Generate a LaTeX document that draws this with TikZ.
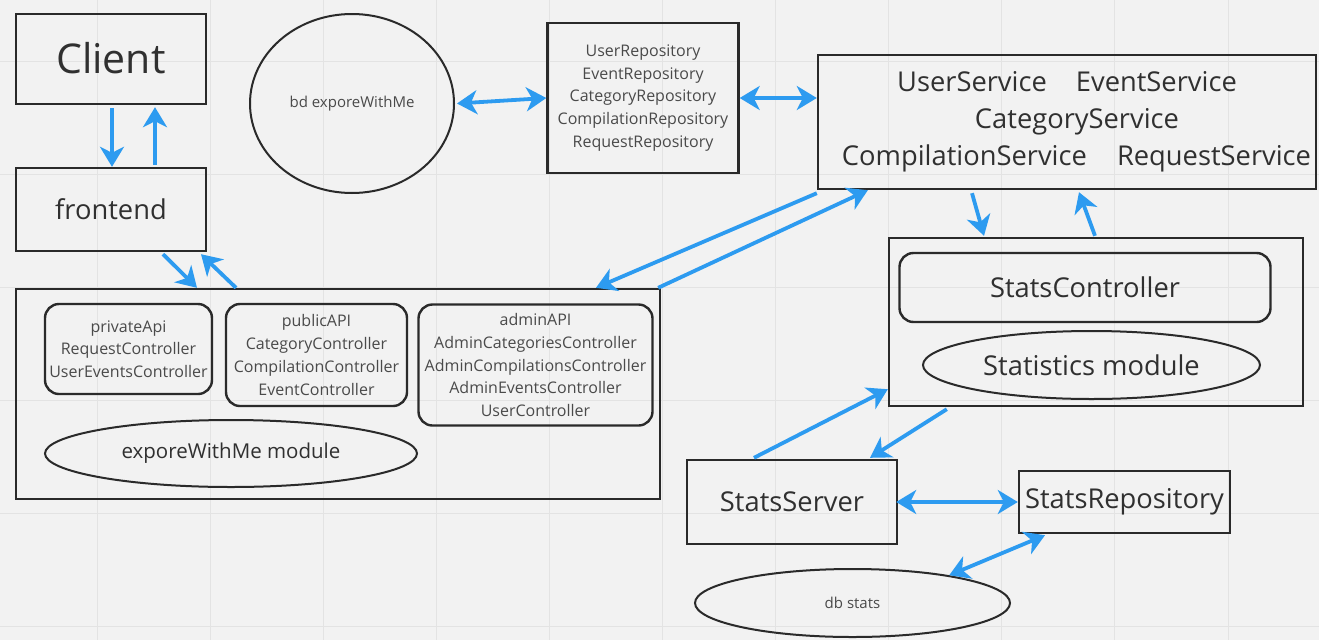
\documentclass[tikz,border=0pt]{standalone}
\usepackage{fontspec}
\setmainfont{Open Sans}
\usetikzlibrary{arrows.meta,shapes.geometric}
\definecolor{bg}{HTML}{F2F2F2}
\definecolor{gridc}{HTML}{E3E3E3}
\definecolor{arrowc}{HTML}{2D9BF0}
\definecolor{linec}{HTML}{2A2A2A}
\definecolor{txt}{HTML}{303030}
\definecolor{txtsmall}{HTML}{4A4A4A}
\begin{document}
\begin{tikzpicture}[x=1pt,y=-1pt,
 box/.style={draw=linec,line width=2.4pt,inner sep=0pt,text=txt,align=center},
 rbox/.style={box,rounded corners=14pt},
 ell/.style={draw=linec,line width=2pt,ellipse,inner sep=0pt,text=txt,align=center},
 tip/.tip={Stealth[length=20pt,width=24pt,inset=6pt]},
 arr/.style={draw=arrowc,line width=3.8pt,-tip},
 darr/.style={draw=arrowc,line width=3.8pt,tip-tip},
 big/.style={font=\fontsize{41}{48}\selectfont},
 mid/.style={font=\fontsize{27.3}{37}\selectfont},
 modf/.style={font=\fontsize{20.5}{24}\selectfont},
 small/.style={font=\fontsize{16}{22.7}\selectfont,text=txtsmall},
 tiny/.style={font=\fontsize{15}{18}\selectfont,text=txtsmall},
]
\fill[bg] (0,0) rectangle (1319,640);
\useasboundingbox (0,0) rectangle (1319,640);
\foreach \i in {0,...,10} \draw[gridc,line width=1pt] ({97+113.1*\i},0) -- ({97+113.1*\i},640);
\foreach \i in {0,...,5} \draw[gridc,line width=1pt] (0,{61+113.1*\i}) -- (1319,{61+113.1*\i});

% nodes
\node[box,big,minimum width=190pt,minimum height=90pt] (client) at (111,59) {\raisebox{2pt}{Client}};
\node[box,mid,minimum width=190pt,minimum height=83pt] (frontend) at (111,209.5) {frontend};
\node[ell,tiny,minimum width=204pt,minimum height=179pt] (bd) at (352,103.5) {bd exporeWithMe};
\node[box,small,minimum width=191pt,minimum height=150pt] (repos) at (643,98) {UserRepository\\EventRepository\\CategoryRepository\\CompilationRepository\\RequestRepository};
\node[box,mid,minimum width=498pt,minimum height=134pt] (services) at (1067,122)
 {UserService\hspace{22pt} EventService\\\hspace*{20pt}CategoryService\\\hspace*{19pt}CompilationService\hspace{23pt} RequestService};

\node[box,minimum width=644pt,minimum height=210pt] (module) at (338,394) {};
\node[rbox,small,minimum width=167pt,minimum height=90pt] (private) at (128.5,349) {privateApi\\RequestController\\UserEventsController};
\node[rbox,small,minimum width=181pt,minimum height=102pt] (public) at (316.5,355) {publicAPI\\CategoryController\\CompilationController\\EventController};
\node[rbox,small,minimum width=234pt,minimum height=121pt] (admin) at (535.5,365) {adminAPI\\AdminCategoriesController\\AdminCompilationsController\\AdminEventsController\\UserController};
\node[ell,modf,minimum width=372pt,minimum height=67pt] (modell) at (231,453.5) {exporeWithMe module};

\node[box,minimum width=414pt,minimum height=168pt] (stats) at (1096,322) {};
\node[rbox,mid,minimum width=371pt,minimum height=69pt] (statsctl) at (1085,287.5) {StatsController};
\node[ell,mid,minimum width=337pt,minimum height=68pt] (statsmod) at (1091.5,365) {Statistics module};

\node[box,mid,minimum width=210pt,minimum height=84pt] (server) at (792,502) {StatsServer};
\node[box,mid,minimum width=211pt,minimum height=62pt] (srepo) at (1124.5,502) {StatsRepository};
\node[ell,tiny,minimum width=315pt,minimum height=68pt] (db) at (852.5,603) {db stats};

% connectors
\draw[arr] ([xshift=1pt,yshift=-3pt]client.south) -- ([xshift=1pt]frontend.north);
\draw[arr] ([xshift=44pt,yshift=2pt]frontend.north) -- ([xshift=44pt,yshift=-2pt]client.south);
\draw[arr] ([xshift=52pt,yshift=-2pt]frontend.south) -- ([xshift=-141pt]module.north);
\draw[arr] ([xshift=-102pt]module.north) -- ([xshift=90pt,yshift=-2pt]frontend.south);
\draw[darr] ([xshift=2pt]bd.east) -- (repos.west);
\draw[darr] (repos.east) -- (repos.east -| services.west);
\draw[arr] ([yshift=-3pt]services.south west) -- ([xshift=258pt]module.north);
\draw[arr] ([xshift=-3pt]module.north east) -- ([xshift=51pt]services.south west);
\draw[arr] ([xshift=-95pt,yshift=-3pt]services.south) -- ([xshift=-112pt,yshift=1pt]stats.north);
\draw[arr] ([xshift=-1pt,yshift=1pt]stats.north) -- ([xshift=12pt,yshift=-2pt]services.south);
\draw[arr] ([xshift=-38pt,yshift=1pt]server.north) -- ([yshift=18pt]stats.south west);
\draw[arr] ([xshift=59pt,yshift=-2pt]stats.south west) -- ([xshift=78pt,yshift=1pt]server.north);
\draw[darr] ([xshift=-2pt]server.east) -- (srepo.west);
\draw[darr] (db.16) -- ([xshift=-79.5pt,yshift=-1pt]srepo.south);
\end{tikzpicture}
\end{document}
